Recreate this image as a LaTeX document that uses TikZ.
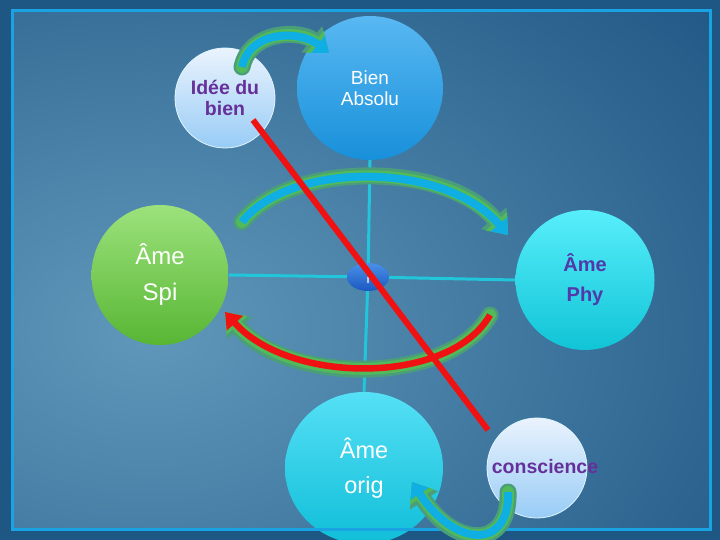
\documentclass[tikz,border=0pt]{standalone}
\usepackage{fontspec}
\setmainfont{Liberation Sans}
\usetikzlibrary{shapes.geometric,arrows.meta}
\pgfdeclarelayer{bg}
\pgfdeclarelayer{lines}
\pgfsetlayers{bg,lines,main}
\definecolor{bgin}{HTML}{6098BB}
\definecolor{bgout}{HTML}{1B5280}
\definecolor{bgedge}{HTML}{1E5783}
\definecolor{framec}{HTML}{1AA3E3}
\definecolor{crossc}{HTML}{22C6DA}
\definecolor{arrblue}{HTML}{0FAEE3}
\definecolor{glowin}{HTML}{52BA58}
\definecolor{glowout}{HTML}{4A9E7A}
\definecolor{redc}{HTML}{F01212}
\definecolor{purp}{HTML}{66309A}
\definecolor{indig}{HTML}{5238A8}
\definecolor{paletop}{HTML}{EAF3FD}
\definecolor{palebot}{HTML}{98CCF6}
\definecolor{bientop}{HTML}{58B8F2}
\definecolor{bienbot}{HTML}{1890DA}
\definecolor{spitop}{HTML}{9CE27C}
\definecolor{spibot}{HTML}{58B634}
\definecolor{cyantop}{HTML}{58EEFB}
\definecolor{cyanbot}{HTML}{10C4D6}
\definecolor{origtop}{HTML}{55E0F6}
\definecolor{origbot}{HTML}{10BED8}
\definecolor{blobtop}{HTML}{4A90E8}
\definecolor{blobbot}{HTML}{1A58C0}
\begin{document}
\begin{tikzpicture}[x=1pt,y=-1pt,
  bubble/.style={ellipse, inner sep=0pt, draw=none, align=center, text=white},
  pale/.style={bubble, top color=paletop, bottom color=palebot, draw=white!88!cyan, line width=0.8pt},
  crossline/.style={draw=crossc, line width=3pt},
  glowouter/.style={draw=glowout, line width=17pt, line cap=round, -{Triangle[length=22pt,width=32pt]}},
  glowinner/.style={draw=glowin, line width=12pt, line cap=round, -{Triangle[length=18pt,width=27pt]}},
  bluearrow/.style={draw=arrblue, line width=8pt, -{Triangle[length=14pt,width=21pt]}},
  redarrow/.style={draw=redc, line width=6.5pt, -{Triangle[length=15pt,width=21pt]}},
  redline/.style={draw=redc, line width=6pt},
  bigtext/.style={font=\fontsize{24}{36}\selectfont},
  boldtext/.style={font=\fontsize{19.5}{21}\selectfont\bfseries}
]
\useasboundingbox (0,0) rectangle (720,540);
\begin{pgfonlayer}{bg}
  \fill[bgedge] (0,0) rectangle (720,540);
  \begin{scope}
    \clip (12,11) rectangle (710,529);
    \shade[inner color=bgin, outer color=bgout] (150,330) ellipse [x radius=800pt, y radius=560pt];
  \end{scope}
\end{pgfonlayer}

% nodes
\node[pale, minimum width=100pt, minimum height=100pt, text=purp, boldtext] (idee) at (225,98) {Idée du\\bien};
\node[bubble, top color=bientop, bottom color=bienbot, minimum width=146pt, minimum height=144pt,
      font=\fontsize{19}{21}\selectfont] (bien) at (370,88) {Bien\\Absolu};
\node[bubble, top color=spitop, bottom color=spibot, minimum width=137pt, minimum height=140pt, bigtext] (spi) at (160,275) {Âme\\Spi};
\node[bubble, top color=cyantop, bottom color=cyanbot, minimum width=139pt, minimum height=140pt,
      text=indig, font=\fontsize{20}{30}\selectfont\bfseries] (phy) at (585,280) {Âme\\Phy};
\node[bubble, top color=origtop, bottom color=origbot, minimum width=158pt, minimum height=152pt,
      font=\fontsize{23.5}{35}\selectfont] (orig) at (364,468) {Âme\\orig};
\node[pale, minimum width=100pt, minimum height=100pt] (consc) at (537,468) {};
\node[bubble, top color=blobtop, bottom color=blobbot, minimum width=42pt, minimum height=28pt] (blob) at (368,277) {};
\node[text=white, inner sep=0pt, font=\fontsize{9}{9}\selectfont\bfseries] (blobt) at (368,280) {I};

% cross lines
\begin{pgfonlayer}{lines}
  \draw[crossline] (spi.east) -- (blob.center) -- (phy.west);
  \draw[crossline] (bien.south) -- (blob.center) -- (orig.north);
\end{pgfonlayer}

% frame
\draw[framec, line width=3pt] (12,11) rectangle (710,529);

% arrows
\coordinate (a1s) at (242,67);
\coordinate (a1e) at (329,53);
\coordinate (a2s) at (242,222);
\coordinate (a2e) at (508,235);
\coordinate (a3s) at (490,315);
\coordinate (a3e) at (225,312);
\coordinate (a4s) at (508,492);
\coordinate (a4e) at (412,482);

\foreach \st in {glowouter,glowinner,bluearrow}{
  \draw[\st] (a1s) .. controls (250,30) and (300,30) .. (a1e);
  \draw[\st] (a2s) .. controls (290,161) and (445,161) .. (a2e);
  \draw[\st] (a4s) .. controls (510,550) and (455,548) .. (a4e);
}
\draw[glowouter] (a3s) .. controls (450,385) and (290,385) .. (a3e);
\draw[glowinner] (a3s) .. controls (450,385) and (290,385) .. (a3e);
\draw[redarrow] (a3s) .. controls (450,385) and (290,385) .. (a3e);

% red diagonal
\coordinate (rs) at (253,120);
\coordinate (re) at (488,430);
\draw[redline] (rs) -- (re);

\node[text=purp, inner sep=0pt, font=\fontsize{19.5}{21}\selectfont\bfseries] (consct) at (545,467) {conscience};
\end{tikzpicture}
\end{document}
